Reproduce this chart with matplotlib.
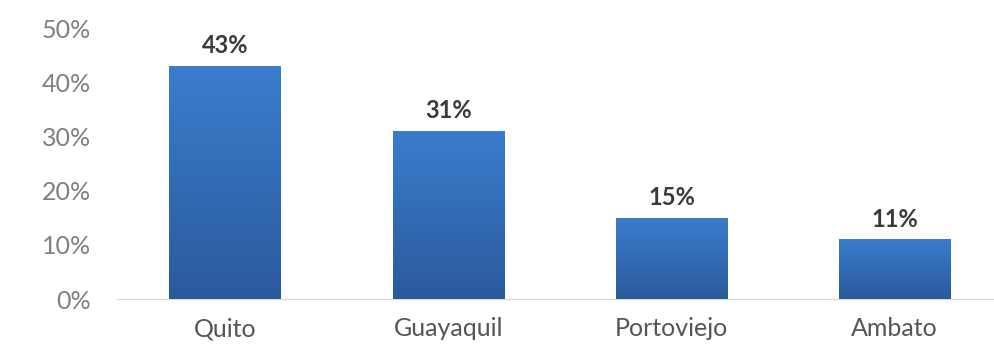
import matplotlib
matplotlib.use("Agg")
import matplotlib.pyplot as plt
import numpy as np
from matplotlib.colors import LinearSegmentedColormap

ciudades = ["Quito", "Guayaquil", "Portoviejo", "Ambato"]
valores = [0.43, 0.31, 0.15, 0.11]
etiquetas = ["43%", "31%", "15%", "11%"]
yticks = [0.0, 0.1, 0.2, 0.3, 0.4, 0.5]
ytick_labels = ["0%", "10%", "20%", "30%", "40%", "50%"]

plt.rcParams['font.family'] = ['Lato', 'DejaVu Sans']

fig = plt.figure(figsize=(9.95, 3.47), dpi=100)
ax = fig.add_axes([0.1176, 0.1383, 0.8824, 0.7807])

x = np.arange(len(ciudades))
bars = ax.bar(x, valores, width=0.5, color="#3470c0", zorder=2)

# degradado vertical dentro de cada barra
cmap = LinearSegmentedColormap.from_list("grad", ["#2b5a9c", "#3a7dcd"])
grad = np.linspace(0, 1, 256).reshape(-1, 1)
for b in bars:
    x0, y0 = b.get_x(), b.get_y()
    w, h = b.get_width(), b.get_height()
    im = ax.imshow(grad, cmap=cmap, origin="lower", aspect="auto",
                   extent=(x0, x0 + w, y0, y0 + h), zorder=3)
    im.set_clip_path(b)

for xi, v, lab in zip(x, valores, etiquetas):
    ax.text(xi, v + 0.016, lab, ha="center", va="bottom", fontsize=17,
            fontweight="bold", color="#3a3a3a")

ax.set_xlim(-0.485, 3.45)
ax.set_ylim(0, 0.5)
ax.set_yticks(yticks)
ax.set_yticklabels(ytick_labels, fontsize=18, color="#808080")
ax.set_xticks(x)
ax.set_xticklabels(ciudades, fontsize=18, color="#555555")
ax.tick_params(axis="both", length=0)
ax.tick_params(axis="y", pad=19)
ax.tick_params(axis="x", pad=13)

for s in ["top", "right", "left"]:
    ax.spines[s].set_visible(False)
ax.spines["bottom"].set_color("#d9d9d9")

fig.savefig("out.png", dpi=100)
